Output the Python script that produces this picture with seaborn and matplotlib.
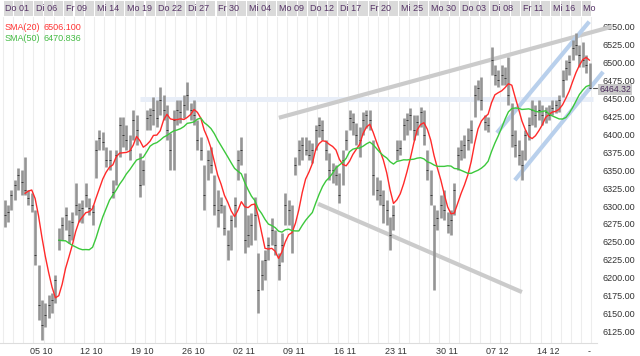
import matplotlib
matplotlib.use("Agg")
import matplotlib.pyplot as plt
import matplotlib.transforms as mtransforms
from matplotlib.patches import Rectangle
import seaborn as sns
import pandas as pd
import numpy as np

# Price bars, 3 bars per trading day (01 Oct - 21 Dec)
high = [6308, 6302, 6322, 6336, 6353, 6350, 6368, 6322, 6318, 6295,
        6218, 6169, 6165, 6176, 6179, 6204, 6269, 6285, 6299, 6281,
        6292, 6332, 6304, 6308, 6332, 6311, 6302, 6392, 6406, 6403,
        6382, 6378, 6336, 6378, 6424, 6424, 6413, 6399, 6434, 6427,
        6374, 6364, 6434, 6437, 6452, 6448, 6466, 6455, 6441, 6402,
        6434, 6448, 6448, 6455, 6473, 6444, 6448, 6420, 6396, 6357,
        6378, 6382, 6343, 6322, 6313, 6302, 6267, 6288, 6313, 6378,
        6396, 6346, 6288, 6290, 6313, 6235, 6225, 6239, 6257, 6283,
        6267, 6235, 6263, 6318, 6308, 6302, 6368, 6392, 6396, 6396,
        6392, 6388, 6413, 6424, 6420, 6392, 6374, 6360, 6357, 6346,
        6378, 6406, 6434, 6430, 6416, 6410, 6431, 6434, 6434, 6392,
        6341, 6336, 6322, 6308, 6285, 6302, 6392, 6392, 6423, 6430,
        6437, 6427, 6427, 6438, 6434, 6378, 6350, 6302, 6295, 6315,
        6322, 6292, 6295, 6332, 6382, 6392, 6399, 6409, 6420, 6469,
        6476, 6480, 6427, 6424, 6522, 6497, 6490, 6497, 6494, 6508,
        6444, 6406, 6392, 6378, 6406, 6424, 6448, 6441, 6448, 6441,
        6438, 6441, 6448, 6448, 6455, 6490, 6504, 6511, 6531, 6541,
        6525, 6529, 6511, 6499]
low = [6271, 6278, 6295, 6308, 6322, 6315, 6315, 6302, 6292, 6218,
       6141, 6113, 6131, 6144, 6151, 6165, 6239, 6253, 6267, 6249,
       6253, 6288, 6278, 6276, 6299, 6288, 6274, 6339, 6378, 6378,
       6355, 6350, 6311, 6329, 6368, 6382, 6378, 6364, 6392, 6385,
       6313, 6329, 6406, 6406, 6413, 6410, 6427, 6420, 6392, 6350,
       6350, 6413, 6416, 6423, 6434, 6420, 6413, 6378, 6364, 6295,
       6336, 6346, 6288, 6271, 6290, 6260, 6225, 6239, 6271, 6336,
       6357, 6235, 6243, 6246, 6253, 6151, 6183, 6197, 6225, 6246,
       6232, 6197, 6222, 6274, 6274, 6235, 6343, 6357, 6364, 6371,
       6364, 6360, 6378, 6396, 6392, 6364, 6336, 6332, 6329, 6304,
       6329, 6378, 6406, 6399, 6385, 6368, 6399, 6409, 6406, 6315,
       6308, 6302, 6276, 6274, 6239, 6267, 6364, 6371, 6392, 6399,
       6406, 6392, 6399, 6410, 6385, 6336, 6302, 6183, 6267, 6283,
       6281, 6263, 6260, 6288, 6350, 6364, 6367, 6378, 6388, 6424,
       6448, 6434, 6406, 6403, 6483, 6469, 6466, 6469, 6469, 6441,
       6382, 6368, 6357, 6336, 6364, 6392, 6413, 6410, 6420, 6413,
       6416, 6420, 6427, 6430, 6431, 6452, 6476, 6483, 6504, 6511,
       6494, 6494, 6485, 6464]
close = [6288, 6292, 6315, 6329, 6343, 6334, 6322, 6311, 6302, 6232,
         6162, 6134, 6148, 6162, 6169, 6197, 6253, 6274, 6288, 6260,
         6278, 6302, 6295, 6297, 6315, 6297, 6292, 6378, 6395, 6389,
         6364, 6364, 6320, 6371, 6413, 6399, 6392, 6378, 6420, 6406,
         6329, 6350, 6423, 6427, 6434, 6423, 6448, 6434, 6406, 6378,
         6420, 6434, 6431, 6441, 6455, 6434, 6427, 6392, 6378, 6315,
         6364, 6357, 6302, 6295, 6302, 6269, 6246, 6281, 6302, 6364,
         6378, 6253, 6260, 6274, 6288, 6183, 6204, 6225, 6246, 6267,
         6246, 6218, 6246, 6302, 6295, 6267, 6357, 6378, 6385, 6378,
         6371, 6378, 6406, 6413, 6406, 6378, 6350, 6350, 6343, 6315,
         6364, 6392, 6423, 6417, 6399, 6392, 6420, 6427, 6420, 6343,
         6322, 6315, 6302, 6295, 6260, 6288, 6378, 6381, 6413, 6420,
         6427, 6406, 6417, 6431, 6399, 6350, 6315, 6274, 6283, 6302,
         6295, 6274, 6281, 6322, 6371, 6378, 6385, 6392, 6406, 6455,
         6465, 6448, 6417, 6413, 6504, 6483, 6476, 6483, 6479, 6455,
         6399, 6385, 6371, 6357, 6399, 6413, 6434, 6427, 6434, 6427,
         6431, 6427, 6437, 6441, 6448, 6476, 6492, 6501, 6520, 6525,
         6511, 6504, 6497, 6464.32]

# top row day labels (every 3rd trading day) and bottom week labels
day_labels = ["Do 01", "Di 06", "Fr 09", "Mi 14", "Mo 19", "Do 22", "Di 27",
              "Fr 30", "Mi 04", "Mo 09", "Do 12", "Di 17", "Fr 20", "Mi 25",
              "Mo 30", "Do 03", "Di 08", "Fr 11", "Mi 16", "Mo 21"]
week_days = [2, 7, 12, 17, 22, 27, 32, 37, 42, 47, 52]
week_labels = ["05 10", "12 10", "19 10", "26 10", "02 11", "09 11",
               "16 11", "23 11", "30 11", "07 12", "14 12"]
n_days = 58
last_price = 6464.32
sma_text = [("SMA(20)", "6506.100", "#ff3333"), ("SMA(50)", "6470.836", "#44bb44")]

# drawn trend lines: (bar index, price) end points
upper_gray = ([81.1, 179.6], [6423, 6550])
lower_gray = ([92.7, 153.0], [6303, 6180])
blue_upper = ([145.6, 172.9], [6402, 6557])
blue_lower = ([150.9, 177.0], [6336, 6487])
band = ([40.0, 173.9], [6449, 6449])

df = pd.DataFrame({"high": high, "low": low, "close": close})
df["bar"] = np.arange(len(df))
# 3 bars per day here, so the hourly 20/50 windows become 7/17 bars
df["sma20"] = df["close"].rolling(7).mean()
df["sma50"] = df["close"].rolling(17).mean()

sns.set_style("white")
plt.rcParams["font.family"] = ["Liberation Sans", "DejaVu Sans"]

fig = plt.figure(figsize=(6.4, 3.56), dpi=100)
ax = fig.add_axes([0.0, 13 / 356, 597 / 640, 326 / 356])
ax.set_xlim(-1.39, 175.2)
ax.set_ylim(6109, 6563.5)

# daily grid lines
for d in range(n_days + 1):
    ax.axvline(3 * d - 0.5, color="#ededed", lw=0.8, zorder=0)

# trend lines and band
ax.plot(*band, color="#e8eef8", lw=3.6, solid_capstyle="butt", zorder=1)
for xs, ys in [upper_gray, lower_gray]:
    ax.plot(xs, ys, color="#cbcbcb", lw=3, solid_capstyle="butt", zorder=1, clip_on=False)
for xs, ys in [blue_upper, blue_lower]:
    ax.plot(xs, ys, color="#b9d0ec", lw=3, solid_capstyle="butt", zorder=1, clip_on=False)

# price bars
ax.vlines(df["bar"], df["low"], df["high"], color="#959595", lw=1.9, zorder=2)
ax.plot(df["bar"], df["close"], ls="none", marker="_", ms=2.0, mew=0.7, color="#3a3a3a", zorder=3)

# moving averages
sns.lineplot(data=df, x="bar", y="sma20", color="#ff2a2a", lw=1.0, ax=ax, zorder=4)
sns.lineplot(data=df, x="bar", y="sma50", color="#3cc83c", lw=1.0, ax=ax, zorder=4)

# right price axis
ax.yaxis.tick_right()
ax.set_yticks(np.arange(6125, 6551, 25))
ax.set_yticklabels([f"{v:.2f}" for v in np.arange(6125, 6551, 25)])
ax.tick_params(axis="y", length=0, pad=4, labelsize=6.5, labelcolor="#333333")
ax.set_xticks([3 * d + 4.7 for d in week_days] + [173])
ax.set_xticklabels(week_labels + ["-"])
ax.tick_params(axis="x", length=0, pad=3, labelsize=6.5, labelcolor="#333333")
ax.set_xlabel("")
ax.set_ylabel("")
for s in ["top", "left", "right"]:
    ax.spines[s].set_visible(False)
ax.spines["bottom"].set_color("#dddddd")
ax.spines["bottom"].set_linewidth(0.8)

# last price marker
blend = mtransforms.blended_transform_factory(ax.transAxes, ax.transData)
ax.plot([0.993, 1.0], [last_price, last_price], color="#555555", lw=0.8, transform=blend, clip_on=False)
ax.text(1.004, last_price - 1.5, f"{last_price:.2f}", transform=blend, va="center", ha="left",
        fontsize=6.3, color="#4b2d5c", clip_on=False,
        bbox=dict(boxstyle="square,pad=0.12", fc="#c9c9c9", ec="none"))

# header row with day labels
hdr = mtransforms.blended_transform_factory(ax.transData, ax.transAxes)
clip = mtransforms.TransformedBbox(mtransforms.Bbox([[0, 0], [1, 1.1]]), ax.transAxes)
for d in range(n_days):
    r = Rectangle((3 * d - 0.5 + 0.15, 1.004), 2.7, 0.046, transform=hdr,
                  fc="#dadada", ec="none", clip_on=False)
    ax.add_patch(r)
for i, lab in enumerate(day_labels):
    t = ax.text(9 * i - 0.5 + 0.7, 1.027, lab, transform=hdr, fontsize=6.5,
                color="#553366", va="center", ha="left", clip_on=True)
    t.set_clip_box(clip)

# SMA legend
for i, (name, val, col) in enumerate(sma_text):
    y = 0.969 - i * 0.034
    ax.text(0.007, y, name, transform=ax.transAxes, fontsize=6.5, color=col, va="center")
    ax.text(0.073, y, val, transform=ax.transAxes, fontsize=6.5, color=col, va="center")

if ax.get_legend():
    ax.get_legend().remove()
fig.savefig("out.png", dpi=100)
